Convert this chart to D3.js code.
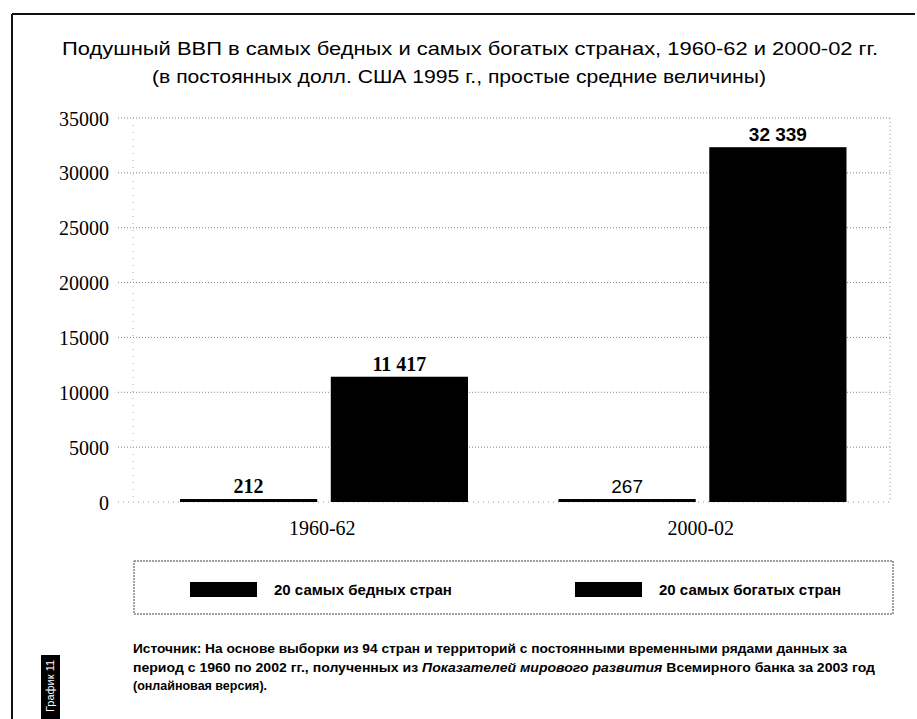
<!DOCTYPE html>
<html lang="ru">
<head>
<meta charset="utf-8">
<title>Подушный ВВП</title>
<script src="https://d3js.org/d3.v7.min.js"></script>
<style>
  body { margin: 0; background: #fff; }
  svg { display: block; background: #fff; }
  .sans { font-family: "Liberation Sans", Arial, sans-serif; }
  .serif { font-family: "Liberation Serif", "Times New Roman", serif; }
</style>
</head>
<body>
<script>
// data
var categories = ["1960-62", "2000-02"];
var seriesNames = ["20 самых бедных стран", "20 самых богатых стран"];
var poorest = [212, 267];
var richest = [11417, 32339];
var yTicks = [0, 5000, 10000, 15000, 20000, 25000, 30000, 35000];
var titleLines = [
  "Подушный ВВП в самых бедных и самых богатых странах, 1960-62 и 2000-02 гг.",
  "(в постоянных долл. США 1995 г., простые средние величины)"
];
var tabLabel = "График 11";

var w = 917, h = 719;
var svg = d3.select("body").append("svg").attr("width", w).attr("height", h);

// frame lines
svg.append("line").attr("x1", 12).attr("x2", 915).attr("y1", 14).attr("y2", 14)
  .attr("stroke", "#111").attr("stroke-width", 2);
svg.append("line").attr("x1", 12).attr("x2", 12).attr("y1", 14).attr("y2", h)
  .attr("stroke", "#111").attr("stroke-width", 2);

// title
var titleX = [470, 459], titleW = [816, 614];
svg.selectAll("text.title").data(titleLines).enter().append("text")
  .attr("class", "title sans")
  .attr("x", function(d, i) { return titleX[i]; })
  .attr("y", function(d, i) { return 55 + i * 28; })
  .attr("text-anchor", "middle")
  .attr("font-size", 19)
  .attr("textLength", function(d, i) { return titleW[i]; })
  .attr("lengthAdjust", "spacingAndGlyphs")
  .attr("fill", "#000")
  .text(function(d) { return d; });

// scales
var y = d3.scaleLinear().domain([0, 35000]).range([502, 118]);
var x0 = d3.scaleBand().domain(categories).range([133, 890]).paddingInner(0).paddingOuter(0);
var x1 = d3.scaleBand().domain([0, 1]).range([47, 335]).paddingInner(0.09);

// grid
svg.append("g").selectAll("line").data(yTicks.filter(function(d) { return d > 0; })).enter().append("line")
  .attr("x1", 118).attr("x2", 890)
  .attr("y1", function(d) { return y(d); }).attr("y2", function(d) { return y(d); })
  .attr("stroke", "#888").attr("stroke-width", 1).attr("stroke-dasharray", "1,2");
svg.append("line").attr("x1", 890).attr("x2", 890).attr("y1", y(35000)).attr("y2", y(0))
  .attr("stroke", "#999").attr("stroke-dasharray", "1,3");
svg.append("line").attr("x1", 133).attr("x2", 133).attr("y1", y(35000)).attr("y2", y(0))
  .attr("stroke", "#aaa").attr("stroke-dasharray", "1,6");
svg.append("line").attr("x1", 118).attr("x2", 890).attr("y1", y(0)).attr("y2", y(0))
  .attr("stroke", "#999").attr("stroke-dasharray", "1,4");

// y axis
var yAxis = d3.axisLeft(y).tickValues(yTicks).tickSize(0).tickPadding(0).tickFormat(d3.format("d"));
var gy = svg.append("g").attr("transform", "translate(109,0)").call(yAxis);
gy.select(".domain").remove();
gy.selectAll("text").attr("class", "serif").attr("font-size", 20).attr("fill", "#000").attr("dy", "0.35em");

// x axis
var xAxis = d3.axisBottom(x0).tickSize(0).tickPadding(0);
var gx = svg.append("g").attr("transform", "translate(0,520)").call(xAxis);
gx.select(".domain").remove();
gx.selectAll("text").attr("class", "serif").attr("font-size", 20).attr("fill", "#000").attr("dy", "0.75em");

// bars
var rows = categories.map(function(c, i) { return { cat: c, vals: [poorest[i], richest[i]] }; });
var fmt = d3.formatLocale({ decimal: ",", thousands: " ", grouping: [3], currency: ["", ""] }).format(",d");
var groups = svg.selectAll("g.grp").data(rows).enter().append("g")
  .attr("class", "grp")
  .attr("transform", function(d) { return "translate(" + x0(d.cat) + ",0)"; });
groups.selectAll("rect").data(function(d) { return d.vals; }).enter().append("rect")
  .attr("x", function(d, i) { return x1(i); })
  .attr("width", x1.bandwidth())
  .attr("y", function(d) { return Math.min(y(d), y(0) - 3); })
  .attr("height", function(d) { return Math.max(y(0) - y(d), 3); })
  .attr("fill", "#000");
groups.each(function(row, gi) {
  d3.select(this).selectAll("text.val").data(row.vals).enter().append("text")
    .attr("class", gi === 0 ? "val serif" : "val sans")
    .attr("x", function(d, i) { return x1(i) + x1.bandwidth() / 2; })
    .attr("y", function(d) { return Math.min(y(d), y(0) - 3) - 6; })
    .attr("text-anchor", "middle")
    .attr("font-size", gi === 0 ? 20 : 19)
    .attr("font-weight", function(d, i) { return (gi === 0 || i === 1) ? "bold" : "normal"; })
    .attr("fill", "#000")
    .text(function(d) { return fmt(d); });
});

// legend
var lg = svg.append("g");
lg.append("rect").attr("x", 134).attr("y", 561).attr("width", 759).attr("height", 53)
  .attr("fill", "none").attr("stroke", "#444").attr("stroke-dasharray", "2,1");
var legX = [190, 575];
seriesNames.forEach(function(s, i) {
  lg.append("rect").attr("x", legX[i]).attr("y", 582).attr("width", 67).attr("height", 15).attr("fill", "#000");
  lg.append("text").attr("class", "sans").attr("x", legX[i] + 84).attr("y", 595)
    .attr("font-size", 15).attr("font-weight", "bold").attr("fill", "#000").text(s);
});

// source note
var src = svg.append("g").attr("class", "sans").attr("font-size", 12.5).attr("font-weight", "bold").attr("fill", "#000");
var t1 = src.append("text").attr("x", 133).attr("y", 653).attr("textLength", 714).attr("lengthAdjust", "spacingAndGlyphs");
t1.text("Источник: На основе выборки из 94 стран и территорий с постоянными временными рядами данных за");
var t2 = src.append("text").attr("x", 133).attr("y", 672).attr("textLength", 742).attr("lengthAdjust", "spacingAndGlyphs");
t2.append("tspan").text("период с 1960 по 2002 гг., полученных из ");
t2.append("tspan").attr("font-style", "italic").text("Показателей мирового развития");
t2.append("tspan").text(" Всемирного банка за 2003 год");
src.append("text").attr("x", 133).attr("y", 690).text("(онлайновая версия).");

// side tab
svg.append("rect").attr("x", 41).attr("y", 655).attr("width", 19).attr("height", h - 655).attr("fill", "#000");
svg.append("text").attr("class", "sans")
  .attr("transform", "translate(54,712) rotate(-90)")
  .attr("font-size", 11).attr("fill", "#fff").text(tabLabel);
</script>
</body>
</html>
